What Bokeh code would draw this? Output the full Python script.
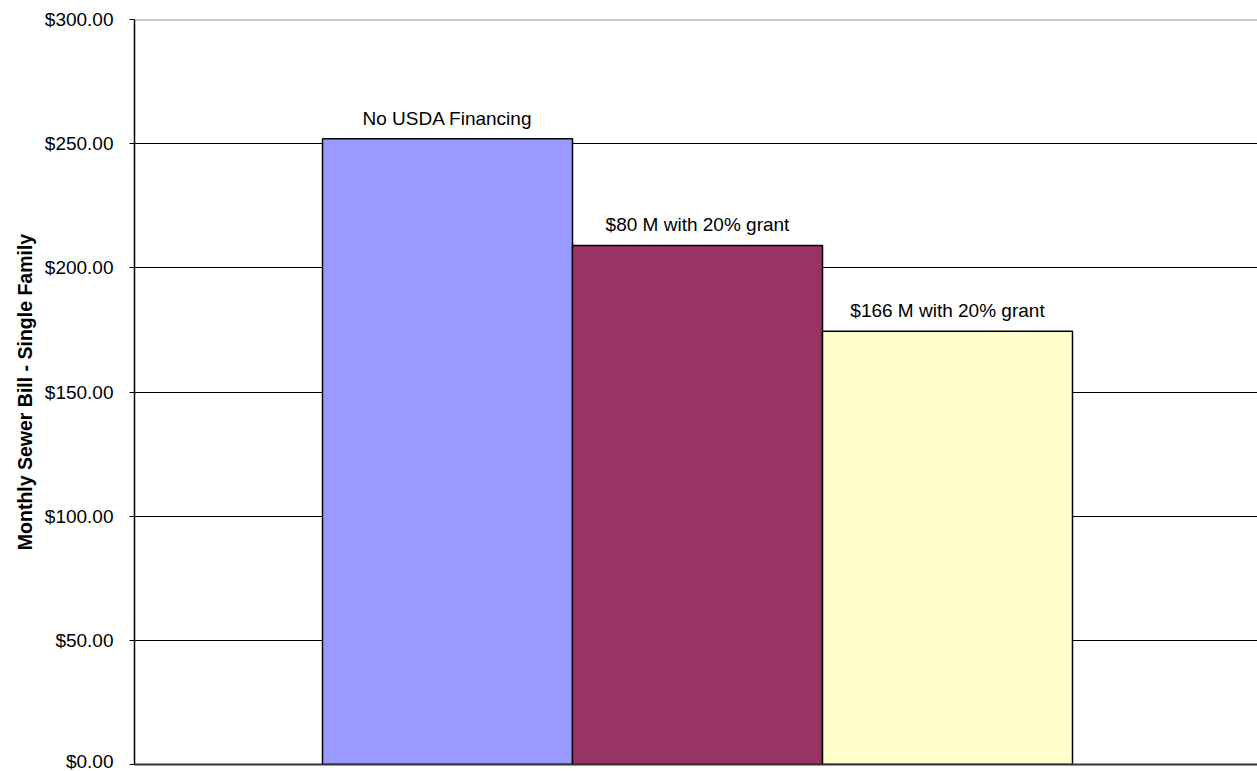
from bokeh.plotting import figure
from bokeh.models import Range1d, NumeralTickFormatter, FixedTicker, Span, ColumnDataSource, LabelSet
from bokeh.core.properties import value
from bokeh.embed import file_html
from bokeh.resources import INLINE

categories = ["No USDA Financing", "$80 M with 20% grant", "$166 M with 20% grant"]
values = [252.0, 209.0, 174.5]
colors = ["#9999FF", "#993366", "#FFFFCC"]
y_ticks = [0, 50, 100, 150, 200, 250, 300]

xs = list(range(len(categories)))
src = ColumnDataSource(dict(x=xs, top=values, color=colors, label=categories))

p = figure(width=1257, height=771, output_backend="svg", toolbar_location=None,
           x_range=Range1d(-1.252, 3.24), y_range=Range1d(0, 300),
           min_border_left=134, min_border_top=19, min_border_bottom=7, min_border_right=0)
p.outline_line_color = None
p.background_fill_color = "white"
p.border_fill_color = "white"

p.vbar(x="x", top="top", width=1.0, bottom=0, fill_color="color", line_color="black",
       line_width=1.5, source=src)

labels = LabelSet(x="x", y="top", text="label", source=src, text_align="center",
                  text_baseline="alphabetic", y_offset=14, text_font=value("Liberation Sans"),
                  text_font_size="19px", text_color="black")
p.add_layout(labels)

p.add_layout(Span(location=300, dimension="width", line_color="#9a9a9a", line_width=2))

p.xgrid.visible = False
p.ygrid.ticker = FixedTicker(ticks=[50, 100, 150, 200, 250])
p.ygrid.grid_line_color = "black"
p.ygrid.grid_line_width = 1

p.yaxis.ticker = FixedTicker(ticks=y_ticks)
p.yaxis.formatter = NumeralTickFormatter(format="$0.00")
p.yaxis.major_label_text_font = "Liberation Sans"
p.yaxis.major_label_text_font_size = "19px"
p.yaxis.major_label_text_color = "black"
p.yaxis.major_tick_out = 5
p.yaxis.major_tick_in = 0
p.yaxis.minor_tick_line_color = None
p.yaxis.axis_line_color = "black"
p.yaxis.axis_line_width = 1.5
p.yaxis.major_label_standoff = 16
p.yaxis.axis_label = "Monthly Sewer Bill - Single Family"
p.yaxis.axis_label_text_font = "Liberation Sans"
p.yaxis.axis_label_text_font_size = "19.5px"
p.yaxis.axis_label_text_font_style = "bold"
p.yaxis.axis_label_text_color = "black"
p.yaxis.axis_label_standoff = 6

p.xaxis.ticker = FixedTicker(ticks=[])
p.xaxis.major_tick_line_color = None
p.xaxis.minor_tick_line_color = None
p.xaxis.axis_line_color = "#333333"
p.xaxis.axis_line_width = 2

open("out.html", "w").write(file_html(p, INLINE))
